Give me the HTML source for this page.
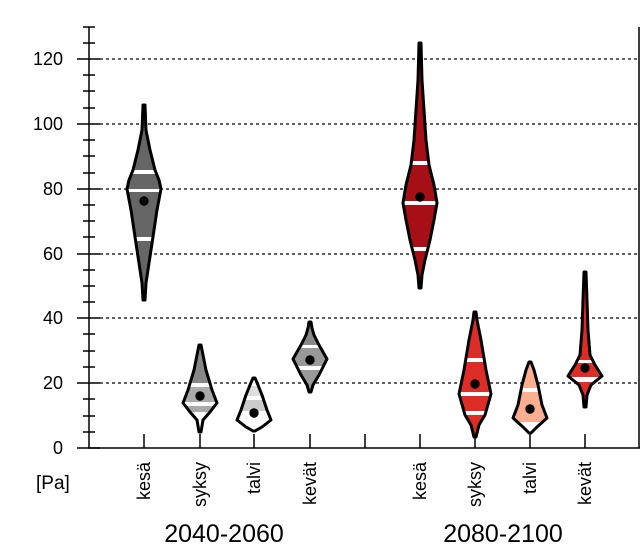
<!DOCTYPE html>
<html><head><meta charset="utf-8"><style>
body{margin:0;background:#fff}
svg{display:block;font-family:"Liberation Sans",sans-serif}
</style></head><body>
<svg width="640" height="560" viewBox="0 0 640 560" xmlns="http://www.w3.org/2000/svg">
<defs>
<polygon id="v1" points="145,105 146,130 150,150 155,170 159,180 161,189 157,210 151,250 146,283 145,300 143,300 142,283 137,250 131,210 127,189 129,180 133,170 138,150 142,130 143,105"/>
<polygon id="v2" points="201,345 203,355 206,370 212,390 217,403 210,412 203,420 201,432 199,432 197,420 190,412 183,403 188,390 194,370 197,355 199,345"/>
<polygon id="v3" points="255,378 258,385 262,395 267,410 271,420 262,427 255,431 253,431 246,427 237,420 241,410 246,395 250,385 253,378"/>
<polygon id="v4" points="311,322 312,328 314,335 319,345 327,359 319,375 313,385 311,392 309,392 307,385 301,375 293,359 301,345 306,335 308,328 309,322"/>
<polygon id="v5" points="421,43 422,80 424,110 426,140 429,165 434,185 437,203 434,220 430,240 425,260 422,275 421,288 419,288 418,275 415,260 410,240 406,220 403,203 406,185 411,165 414,140 416,110 418,80 419,43"/>
<polygon id="v6" points="476,312 477,320 481,340 486,370 491,394 485,415 479,425 476,437 474,437 471,425 465,415 459,394 464,370 469,340 473,320 474,312"/>
<polygon id="v7" points="531,362 534,370 538,385 542,405 547,418 537,427 531,433 529,433 523,427 513,418 518,405 522,385 526,370 529,362"/>
<polygon id="v8" points="586,272 587,300 588,330 590,355 595,365 602,376 591,385 587,395 586,407 584,407 583,395 579,385 568,376 575,365 580,355 582,330 583,300 584,272"/>
<clipPath id="c1"><use href="#v1"/></clipPath><clipPath id="c2"><use href="#v2"/></clipPath>
<clipPath id="c3"><use href="#v3"/></clipPath><clipPath id="c4"><use href="#v4"/></clipPath>
<clipPath id="c5"><use href="#v5"/></clipPath><clipPath id="c6"><use href="#v6"/></clipPath>
<clipPath id="c7"><use href="#v7"/></clipPath><clipPath id="c8"><use href="#v8"/></clipPath>
</defs>
<g stroke="#000" stroke-width="1.3" stroke-dasharray="3,3">
<line x1="100" x2="639" y1="383" y2="383"/><line x1="100" x2="639" y1="318" y2="318"/>
<line x1="100" x2="639" y1="254" y2="254"/><line x1="100" x2="639" y1="189" y2="189"/>
<line x1="100" x2="639" y1="124" y2="124"/><line x1="100" x2="639" y1="59" y2="59"/>
</g>
<g stroke="#000" stroke-width="1.5" fill="none">
<line x1="89" y1="27" x2="89" y2="448"/><line x1="639" y1="27" x2="639" y2="448"/>
<line x1="88" y1="448" x2="640" y2="448"/>
<path d="M77 448h23M77 383h23M77 318h23M77 254h23M77 189h23M77 124h23M77 59h23"/>
<path d="M83 432h12M83 416h12M83 399h12M83 367h12M83 351h12M83 334h12M83 302h12M83 286h12M83 270h12M83 237h12M83 221h12M83 205h12M83 173h12M83 156h12M83 140h12M83 108h12M83 91h12M83 75h12M83 43h12M83 27h12"/>
<path d="M144 448v-14M200 448v-14M254 448v-14M310 448v-14M365 448v-14M420 448v-14M475 448v-14M530 448v-14M585 448v-14"/>
</g>
<g clip-path="url(#c1)"><rect x="120" y="100" width="50" height="210" fill="#666"/>
<rect x="120" y="170" width="50" height="4" fill="#fff"/><rect x="120" y="189" width="50" height="3" fill="#fff"/><rect x="120" y="237" width="50" height="4" fill="#fff"/></g>
<g clip-path="url(#c2)"><rect x="180" y="340" width="40" height="100" fill="#fff"/><rect x="180" y="340" width="40" height="43" fill="#888"/>
<rect x="180" y="387" width="40" height="15" fill="#aaa"/><rect x="180" y="406" width="40" height="6" fill="#aaa"/></g>
<g clip-path="url(#c3)"><rect x="230" y="370" width="50" height="70" fill="#fff"/><rect x="230" y="386" width="50" height="10" fill="#ddd"/><rect x="230" y="400" width="50" height="11" fill="#ccc"/></g>
<g clip-path="url(#c4)"><rect x="290" y="320" width="40" height="80" fill="#999"/><rect x="290" y="320" width="40" height="25" fill="#888"/>
<rect x="290" y="345" width="40" height="3" fill="#fff"/><rect x="290" y="366" width="40" height="4" fill="#fff"/></g>
<g clip-path="url(#c5)"><rect x="400" y="40" width="40" height="250" fill="#a50f15"/>
<rect x="400" y="161" width="40" height="4" fill="#fff"/><rect x="400" y="201" width="40" height="4" fill="#fff"/><rect x="400" y="247" width="40" height="4" fill="#fff"/></g>
<g clip-path="url(#c6)"><rect x="455" y="310" width="40" height="130" fill="#de2d26"/>
<rect x="455" y="358" width="40" height="4" fill="#fff"/><rect x="455" y="392" width="40" height="4" fill="#fff"/><rect x="455" y="411" width="40" height="4" fill="#fff"/></g>
<g clip-path="url(#c7)"><rect x="510" y="360" width="40" height="75" fill="#fff"/><rect x="510" y="360" width="40" height="28" fill="#fcae91"/>
<rect x="510" y="392" width="40" height="30" fill="#fcae91"/></g>
<g clip-path="url(#c8)"><rect x="565" y="270" width="40" height="140" fill="#de2d26"/>
<rect x="565" y="360" width="40" height="3" fill="#fff"/><rect x="565" y="377" width="40" height="5" fill="#fff"/></g>
<g fill="none" stroke="#000" stroke-width="3" stroke-linejoin="round">
<use href="#v1"/><use href="#v2"/><use href="#v3"/><use href="#v4"/><use href="#v5"/><use href="#v6"/><use href="#v7"/><use href="#v8"/>
</g>
<g fill="#000">
<circle cx="144" cy="201" r="4.7"/><circle cx="200" cy="396" r="4.7"/><circle cx="254" cy="413" r="4.7"/><circle cx="310" cy="360" r="4.7"/>
<circle cx="420" cy="197" r="4.7"/><circle cx="475" cy="384" r="4.7"/><circle cx="530" cy="409" r="4.7"/><circle cx="585" cy="368" r="4.7"/>
</g>
<g font-size="18" text-anchor="end" fill="#000">
<text x="63" y="454">0</text><text x="63" y="389">20</text><text x="63" y="324">40</text>
<text x="63" y="260">60</text><text x="63" y="195">80</text><text x="63" y="130">100</text><text x="63" y="65">120</text>
</g>
<text x="36" y="489" font-size="19">[Pa]</text>
<g font-size="18" text-anchor="end">
<text transform="translate(150,462) rotate(-90)">kesä</text>
<text transform="translate(206,462) rotate(-90)">syksy</text>
<text transform="translate(260,462) rotate(-90)">talvi</text>
<text transform="translate(316,462) rotate(-90)">kevät</text>
<text transform="translate(426,462) rotate(-90)">kesä</text>
<text transform="translate(481,462) rotate(-90)">syksy</text>
<text transform="translate(536,462) rotate(-90)">talvi</text>
<text transform="translate(591,462) rotate(-90)">kevät</text>
</g>
<text x="224" y="542" font-size="25" text-anchor="middle">2040-2060</text>
<text x="503" y="542" font-size="25" text-anchor="middle">2080-2100</text>
</svg>
</body></html>
